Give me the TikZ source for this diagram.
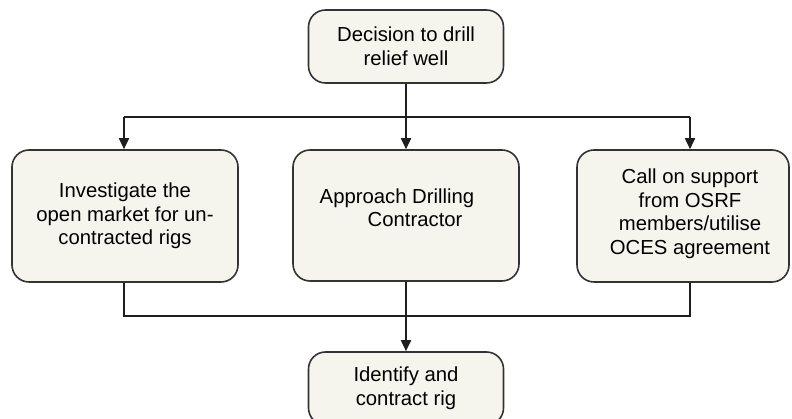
\documentclass[tikz,border=0pt]{standalone}
\usepackage{fontspec}
\setmainfont{Liberation Sans}
\usetikzlibrary{arrows.meta}
\definecolor{boxfill}{HTML}{F5F5EE}
\definecolor{boxline}{HTML}{333333}
\definecolor{connc}{HTML}{1E1E1E}
\begin{document}
\begin{tikzpicture}[x=1pt,y=1pt,
  box/.style={draw=boxline, line width=1.6pt, fill=boxfill, rounded corners=17pt,
    font=\fontsize{20.3}{23.5}\selectfont, align=center, inner sep=0pt},
  boxtext/.style={font=\fontsize{20.3}{23.5}\selectfont, align=center, inner sep=0pt},
  conn/.style={draw=connc, line width=1.8pt},
  arr/.style={conn, -{Triangle[width=10pt,length=11pt]}}]
\useasboundingbox (0,0) rectangle (792,419);
\clip (0,0) rectangle (792,419);
\node[box, minimum width=195pt, minimum height=73pt] (top) at (406,372.5) {Decision to drill\\relief well};
\node[box, minimum width=226pt, minimum height=132pt] (left) at (125,203) {Investigate the\\open market for un-\\contracted rigs};
\node[box, minimum width=226pt, minimum height=131pt] (mid) at (406,203.5) {};
\node[boxtext, align=left] (midtext) at (406,211) {Approach Drilling\hspace*{18pt}\\\hspace*{48pt}Contractor};
\node[box, minimum width=212pt, minimum height=132pt] (right) at (683,203) {};
\node[boxtext] (righttext) at (690,205) {Call on support\\from OSRF\\members/utilise\\OCES agreement};
\node[box, minimum width=195pt, minimum height=73pt] (bot) at (406,30.5) {Identify and\\contract rig};
\coordinate (tl) at (124,302);
\coordinate (tr) at (690,302);
\coordinate (bl) at (124,103);
\coordinate (br) at (690,103);
\draw[conn] (tl) -- (tr);
\draw[arr] (tl) -- (tl |- left.north);
\draw[arr] (top.south) -- (top.south |- mid.north);
\draw[arr] (tr) -- (tr |- right.north);
\draw[conn] (bl |- left.south) -- (bl) -- (br) -- (br |- right.south);
\draw[arr] (mid.south) -- (mid.south |- bot.north);
\end{tikzpicture}
\end{document}
